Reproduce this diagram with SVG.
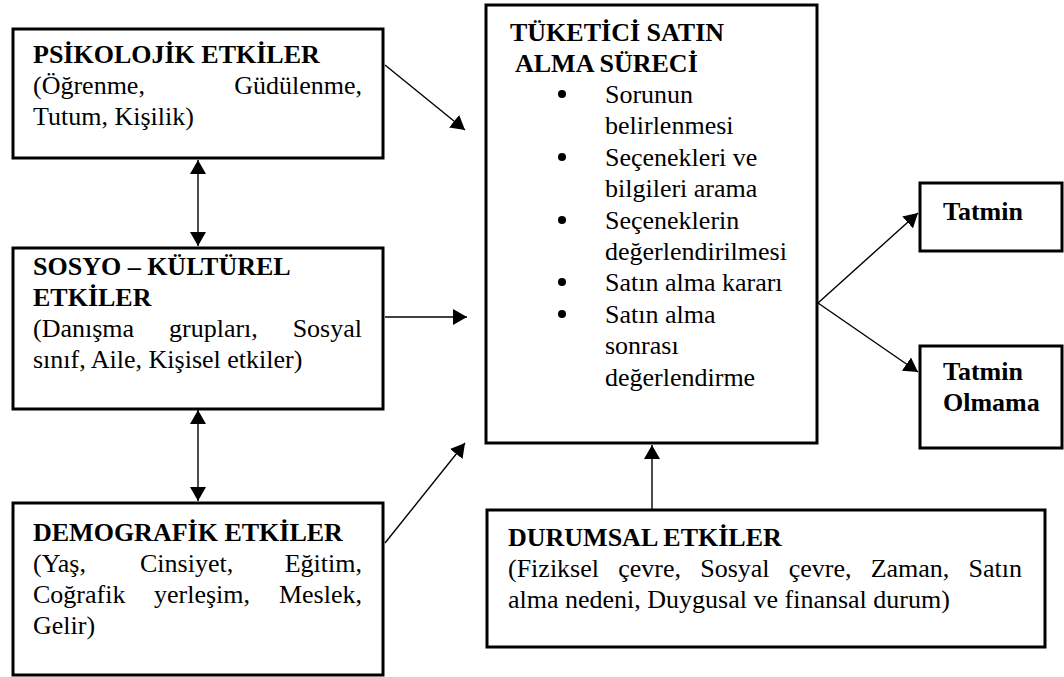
<svg xmlns="http://www.w3.org/2000/svg" width="1064" height="677" viewBox="0 0 1064 677">
<style>
  .box { fill: #fff; stroke: #000; stroke-width: 3; }
  .t { font-family: "Liberation Serif", "Times New Roman", serif; font-size: 26px; fill: #000; }
  .b { font-weight: bold; }
  .con { stroke: #000; stroke-width: 1.4; fill: none; }
</style>
<defs>
  <marker id="ah" markerUnits="userSpaceOnUse" markerWidth="14" markerHeight="16" refX="14" refY="8" orient="auto-start-reverse">
    <path d="M0,0 L14,8 L0,16 z" fill="#000"/>
  </marker>
</defs>
<rect width="1064" height="677" fill="#fff"/>

<g id="connectors">
  <line class="con" x1="385" y1="65" x2="465" y2="130" marker-end="url(#ah)"/>
  <line class="con" x1="385" y1="317" x2="467" y2="317" marker-end="url(#ah)"/>
  <line class="con" x1="385" y1="543" x2="465" y2="443" marker-end="url(#ah)"/>
  <line class="con" x1="198" y1="160" x2="198" y2="246" marker-start="url(#ah)" marker-end="url(#ah)"/>
  <line class="con" x1="198" y1="410" x2="198" y2="501" marker-start="url(#ah)" marker-end="url(#ah)"/>
  <line class="con" x1="818" y1="303" x2="918" y2="213" marker-end="url(#ah)"/>
  <line class="con" x1="818" y1="303" x2="918" y2="372" marker-end="url(#ah)"/>
  <line class="con" x1="652" y1="509" x2="652" y2="445" marker-end="url(#ah)"/>
</g>

<g id="psikolojik">
  <rect class="box" x="13" y="29" width="370" height="129"/>
  <text class="t b" x="33" y="63">PSİKOLOJİK ETKİLER</text>
  <text class="t" y="94"><tspan x="33">(Öğrenme,</tspan><tspan x="362" text-anchor="end">Güdülenme,</tspan></text>
  <text class="t" x="33" y="125">Tutum, Kişilik)</text>
</g>

<g id="sosyo">
  <rect class="box" x="13" y="248" width="370" height="161"/>
  <text class="t b" x="33" y="275">SOSYO – KÜLTÜREL</text>
  <text class="t b" x="33" y="306">ETKİLER</text>
  <text class="t" y="337"><tspan x="33">(Danışma</tspan><tspan x="169">grupları,</tspan><tspan x="362" text-anchor="end">Sosyal</tspan></text>
  <text class="t" x="33" y="368">sınıf, Aile, Kişisel etkiler)</text>
</g>

<g id="demografik">
  <rect class="box" x="13" y="503" width="370" height="172"/>
  <text class="t b" x="33" y="541">DEMOGRAFİK ETKİLER</text>
  <text class="t" y="572"><tspan x="33">(Yaş,</tspan><tspan x="140">Cinsiyet,</tspan><tspan x="362" text-anchor="end">Eğitim,</tspan></text>
  <text class="t" y="603"><tspan x="33">Coğrafik</tspan><tspan x="154">yerleşim,</tspan><tspan x="362" text-anchor="end">Meslek,</tspan></text>
  <text class="t" x="33" y="634">Gelir)</text>
</g>

<g id="surec">
  <rect class="box" x="486" y="5" width="331" height="438"/>
  <text class="t b" x="510" y="41">TÜKETİCİ SATIN</text>
  <text class="t b" x="515" y="72">ALMA SÜRECİ</text>
  <g fill="#000">
    <circle cx="562" cy="94" r="4"/>
    <circle cx="562" cy="157" r="4"/>
    <circle cx="562" cy="220" r="4"/>
    <circle cx="562" cy="282" r="4"/>
    <circle cx="562" cy="314" r="4"/>
  </g>
  <text class="t" x="605" y="103">Sorunun</text>
  <text class="t" x="605" y="134">belirlenmesi</text>
  <text class="t" x="605" y="166">Seçenekleri ve</text>
  <text class="t" x="605" y="197">bilgileri arama</text>
  <text class="t" x="605" y="229">Seçeneklerin</text>
  <text class="t" x="605" y="260">değerlendirilmesi</text>
  <text class="t" x="605" y="291">Satın alma kararı</text>
  <text class="t" x="605" y="323">Satın alma</text>
  <text class="t" x="605" y="354">sonrası</text>
  <text class="t" x="605" y="386">değerlendirme</text>
</g>

<g id="tatmin">
  <rect class="box" x="920" y="183" width="142" height="68"/>
  <text class="t b" x="943" y="220">Tatmin</text>
</g>

<g id="tatmin-olmama">
  <rect class="box" x="920" y="346" width="142" height="102"/>
  <text class="t b" x="943" y="380">Tatmin</text>
  <text class="t b" x="943" y="411">Olmama</text>
</g>

<g id="durumsal">
  <rect class="box" x="487" y="510" width="558" height="137"/>
  <text class="t b" x="508" y="546">DURUMSAL ETKİLER</text>
  <text class="t" y="577"><tspan x="508">(Fiziksel</tspan><tspan x="618.2">çevre,</tspan><tspan x="700.2">Sosyal</tspan><tspan x="788.7">çevre,</tspan><tspan x="870.7">Zaman,</tspan><tspan x="1022" text-anchor="end">Satın</tspan></text>
  <text class="t" x="508" y="608">alma nedeni, Duygusal ve finansal durum)</text>
</g>
</svg>
